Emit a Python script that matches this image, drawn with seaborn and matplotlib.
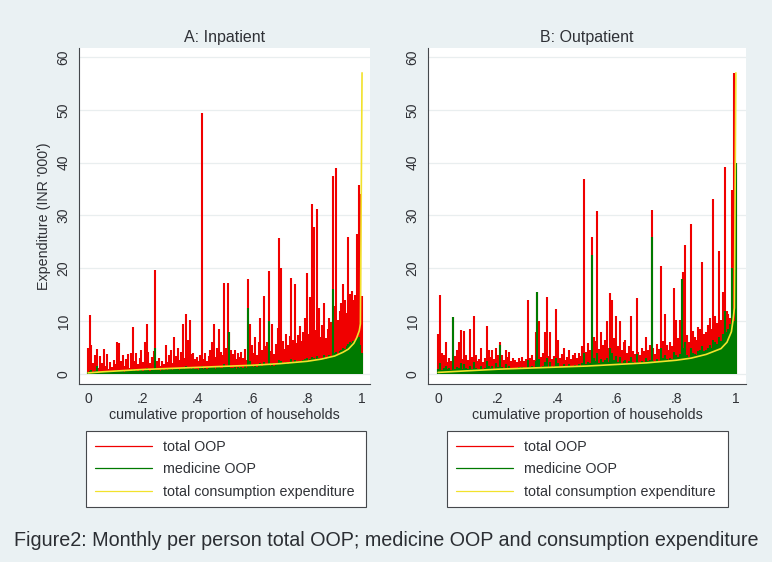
import numpy as np
import matplotlib
matplotlib.use("Agg")
import matplotlib.pyplot as plt
from matplotlib.lines import Line2D
import seaborn as sns

# ---- data (INR '000, households ordered by consumption expenditure) ----
inpatient_total = [
    5.0, 11.2, 5.5, 2.1, 3.5, 4.8, 1.2, 3.4, 2.0, 4.7, 1.5, 3.8, 1.0, 2.2, 1.4, 2.6, 1.8, 6.0, 5.8, 2.4,
    3.5, 1.6, 2.8, 3.8, 1.2, 4.0, 8.8, 2.5, 4.0, 1.8, 3.0, 4.5, 2.2, 6.0, 9.5, 4.2, 2.0, 3.2, 4.4, 19.7,
    2.5, 3.0, 1.6, 2.4, 1.8, 5.5, 2.2, 3.6, 4.5, 2.0, 7.0, 3.4, 5.0, 2.6, 4.2, 9.5, 3.0, 11.3, 6.5, 10.3,
    3.8, 4.0, 2.8, 3.2, 2.4, 3.6, 49.4, 2.8, 4.0, 2.5, 3.4, 4.6, 6.0, 9.4, 3.2, 5.0, 8.5, 4.2, 3.6, 17.2,
    5.0, 17.3, 8.0, 4.5, 3.8, 4.5, 2.8, 4.0, 3.2, 4.2, 3.0, 4.8, 2.6, 18.0, 9.5, 5.5, 4.0, 7.0, 3.6, 6.0,
    10.5, 4.6, 14.7, 5.2, 6.0, 19.4, 4.4, 9.5, 3.8, 5.6, 8.7, 25.8, 20.0, 6.2, 4.8, 7.5, 5.4, 7.2, 18.1, 6.4,
    17.1, 5.8, 7.4, 9.0, 6.2, 8.0, 10.5, 19.2, 7.6, 14.5, 32.2, 27.8, 8.4, 31.2, 12.5, 7.0, 9.2, 13.5, 6.8, 8.5,
    10.5, 9.8, 37.5, 12.8, 39.0, 10.2, 12.0, 13.5, 17.0, 14.0, 11.5, 25.9, 15.2, 15.7, 14.0, 15.0, 26.5, 35.7, 34.0, 14.8,
]
inpatient_medicine = [
    0.3, 0.5, 0.8, 0.4, 0.6, 1.5, 0.3, 0.4, 0.5, 0.6, 0.4, 0.5, 0.3, 0.5, 0.4, 0.6, 0.5, 0.8, 0.7, 0.5,
    0.6, 0.4, 0.7, 0.8, 0.5, 0.6, 0.9, 0.6, 0.7, 0.5, 0.8, 0.9, 0.6, 1.0, 1.2, 0.8, 0.6, 0.7, 0.9, 5.0,
    0.7, 0.8, 0.6, 0.9, 0.7, 1.0, 0.8, 0.9, 1.1, 0.7, 1.2, 0.9, 1.0, 0.8, 1.1, 1.4, 0.9, 1.6, 1.2, 1.3,
    1.0, 1.1, 0.9, 1.0, 0.8, 1.1, 1.5, 0.9, 1.2, 1.0, 1.1, 1.3, 1.4, 1.6, 1.0, 1.3, 1.5, 1.2, 1.1, 1.8,
    1.3, 1.6, 8.0, 1.2, 1.1, 1.4, 1.0, 1.3, 1.2, 1.4, 1.1, 1.5, 1.2, 12.5, 2.5, 1.6, 1.4, 1.8, 1.3, 1.7,
    2.0, 1.6, 2.2, 1.8, 1.7, 10.0, 1.6, 2.0, 1.5, 1.9, 2.1, 2.6, 2.4, 1.9, 1.8, 2.2, 1.9, 2.1, 2.8, 2.0,
    2.6, 2.2, 2.4, 2.5, 2.3, 2.6, 2.8, 3.0, 2.5, 2.9, 3.2, 3.0, 2.7, 3.4, 3.0, 2.8, 3.1, 3.5, 2.9, 3.2,
    3.6, 3.4, 16.0, 4.0, 4.2, 3.8, 4.4, 4.6, 5.0, 4.8, 5.2, 5.6, 6.0, 5.8, 6.2, 6.5, 6.8, 7.0, 5.5, 4.0,
]
inpatient_cons_share = [0, .05, .1, .2, .3, .4, .5, .6, .7, .8, .85, .9, .93, .95, .97, .98, .99, .994, 1.0]
inpatient_cons = [0.2, 0.4, 0.55, 0.85, 1.05, 1.25, 1.45, 1.65, 1.95, 2.4, 2.8, 3.4, 4.1, 4.7, 5.8, 6.8, 8.2, 9.5, 57.0]

outpatient_total = [
    7.5, 15.0, 4.0, 3.5, 6.0, 2.2, 3.0, 2.5, 10.7, 3.4, 4.5, 6.0, 8.3, 2.8, 8.2, 3.5, 2.6, 8.5, 3.2, 11.0,
    3.5, 2.4, 2.8, 5.0, 2.2, 3.0, 9.0, 4.5, 3.2, 4.5, 2.8, 5.0, 3.6, 6.0, 3.5, 2.6, 4.5, 3.2, 4.2, 2.4,
    3.0, 2.6, 2.2, 3.0, 2.5, 3.3, 2.4, 2.8, 14.0, 3.0, 3.5, 2.6, 8.0, 15.5, 10.0, 3.2, 4.0, 8.0, 14.5, 3.4,
    8.0, 2.8, 3.4, 12.3, 6.5, 3.0, 3.8, 5.0, 2.6, 3.2, 4.5, 2.8, 3.6, 4.0, 3.0, 4.0, 3.4, 5.2, 36.9, 4.2,
    5.8, 4.6, 26.0, 7.0, 6.2, 30.8, 4.8, 8.0, 5.4, 6.5, 10.0, 5.0, 15.3, 14.0, 6.8, 11.0, 5.2, 10.0, 4.6, 6.0,
    6.5, 4.0, 5.2, 11.0, 4.4, 3.8, 14.3, 4.2, 3.6, 5.0, 4.4, 7.0, 4.6, 5.4, 31.0, 5.0, 3.8, 5.6, 4.8, 20.5,
    6.2, 11.3, 5.4, 4.6, 6.0, 5.2, 16.3, 10.3, 6.8, 10.3, 18.0, 19.3, 24.5, 7.4, 6.0, 28.3, 8.2, 7.0, 6.4, 8.8,
    8.5, 21.2, 7.6, 8.0, 9.2, 10.5, 8.6, 33.2, 11.0, 9.6, 23.2, 10.2, 15.5, 39.2, 12.0, 11.4, 10.5, 34.8, 57.0, 40.0,
]
outpatient_medicine = [
    1.0, 2.0, 0.8, 1.2, 1.5, 0.9, 1.2, 0.8, 10.7, 1.0, 1.4, 1.2, 2.0, 0.9, 1.8, 1.1, 0.9, 1.6, 1.0, 2.2,
    1.2, 0.9, 1.0, 1.6, 0.9, 1.1, 2.4, 1.5, 1.2, 1.6, 1.0, 2.0, 1.3, 5.5, 1.4, 1.0, 1.8, 1.2, 1.6, 1.0,
    1.2, 1.1, 1.0, 1.3, 1.1, 1.4, 1.0, 1.2, 2.6, 1.3, 1.5, 1.1, 2.4, 15.5, 2.8, 1.4, 1.6, 2.2, 3.0, 1.4,
    2.2, 1.3, 1.5, 3.0, 2.0, 1.4, 1.6, 1.8, 1.3, 1.5, 1.8, 1.4, 1.6, 1.7, 1.5, 1.8, 1.6, 2.0, 4.0, 1.8,
    2.2, 2.0, 22.5, 3.0, 2.4, 4.0, 2.0, 2.8, 2.2, 2.6, 3.0, 2.2, 5.0, 4.0, 2.6, 3.4, 2.2, 3.2, 2.1, 2.5,
    2.6, 2.0, 2.4, 3.2, 2.2, 2.0, 3.8, 2.2, 2.0, 2.4, 2.3, 3.0, 2.4, 2.6, 26.0, 2.5, 2.2, 2.8, 2.5, 5.0,
    3.0, 3.6, 2.8, 2.6, 3.0, 2.8, 4.2, 3.6, 3.2, 3.8, 18.0, 5.0, 6.0, 3.6, 3.2, 5.0, 4.0, 3.8, 3.6, 4.4,
    4.6, 5.2, 4.4, 4.6, 5.0, 5.4, 5.0, 6.5, 6.0, 5.6, 7.0, 6.2, 7.5, 12.0, 8.0, 8.5, 9.5, 20.0, 10.0, 40.0,
]
outpatient_cons_share = [0, .1, .2, .3, .4, .5, .6, .7, .8, .85, .9, .95, .97, .985, .99, .995, 1.0]
outpatient_cons = [0.3, 0.6, 0.9, 1.1, 1.3, 1.5, 1.8, 2.1, 2.6, 3.0, 3.7, 4.8, 6.0, 8.0, 10.0, 12.5, 57.0]

tick_vals = [0, .2, .4, .6, .8, 1]
tick_labels = ["0", ".2", ".4", ".6", ".8", "1"]
legend_labels = ["total OOP", "medicine OOP", "total consumption expenditure"]

BG = "#EAF1F3"
RED = "#F00000"
GREEN = "#007A00"
YELLOW = "#F2E22C"
INK = "#2F3136"

sns.set_style("white")
plt.rcParams["font.family"] = ["Liberation Sans", "DejaVu Sans"]

fig = plt.figure(figsize=(7.72, 5.62), dpi=100, facecolor=BG)
ax_a = fig.add_axes([79 / 772, 1 - 384 / 562, 291 / 772, 336 / 562])
ax_b = fig.add_axes([428 / 772, 1 - 384 / 562, 318 / 772, 336 / 562])


def draw_panel(ax, total, medicine, cons_share, cons, title, xlim, legend_box):
    share = np.linspace(0, 1, len(total))
    ax.vlines(share, 0, total, color=RED, lw=1.5, capstyle="butt")
    ax.vlines(share, 0, medicine, color=GREEN, lw=1.5, capstyle="butt")
    sns.lineplot(x=cons_share, y=cons, ax=ax, color=YELLOW, lw=1.2)

    ax.set_facecolor("white")
    ax.set_xlim(*xlim)
    ax.set_ylim(-1.9, 61.7)
    ax.set_yticks(range(0, 61, 10))
    ax.set_xticks(tick_vals)
    ax.set_xticklabels(tick_labels)
    ax.yaxis.grid(True, color="#E9EEEF", lw=0.9)
    ax.set_axisbelow(True)
    for side in ["top", "right"]:
        ax.spines[side].set_visible(False)
    for side in ["left", "bottom"]:
        ax.spines[side].set_color("#45484C")
        ax.spines[side].set_linewidth(0.8)
    ax.tick_params(axis="both", direction="out", length=4, width=0.8, color="#45484C",
                   labelsize=10, labelcolor=INK, pad=2)
    plt.setp(ax.get_yticklabels(), rotation=90, va="center")
    ax.set_title(title, fontsize=11.5, color=INK, pad=4)
    ax.set_xlabel("cumulative proportion of households", fontsize=10.3, color=INK, labelpad=1)

    handles = [Line2D([], [], color=c, lw=0.9) for c in [RED, GREEN, YELLOW]]
    leg = ax.legend(handles, legend_labels, loc="upper left", bbox_to_anchor=legend_box,
                    bbox_transform=fig.transFigure, mode="expand", fontsize=10.3,
                    frameon=True, fancybox=False, framealpha=1, edgecolor="#45484C",
                    borderaxespad=0, borderpad=0.6, labelspacing=0.6,
                    handlelength=4.0, handletextpad=0.8)
    leg.get_frame().set_linewidth(0.8)
    for t in leg.get_texts():
        t.set_color(INK)


draw_panel(ax_a, inpatient_total, inpatient_medicine, inpatient_cons_share, inpatient_cons,
           "A: Inpatient", (-0.033, 1.029), (86 / 772, 1 - 431 / 562 - 0.1, 280 / 772, 0.1))
draw_panel(ax_b, outpatient_total, outpatient_medicine, outpatient_cons_share, outpatient_cons,
           "B: Outpatient", (-0.034, 1.034), (447 / 772, 1 - 431 / 562 - 0.1, 281 / 772, 0.1))

ax_a.set_ylabel("Expenditure (INR '000')", fontsize=10.3, color=INK, labelpad=4)
ax_b.set_ylabel("")

fig.text(0.5, 1 - 540 / 562, "Figure2: Monthly per person total OOP; medicine OOP and consumption expenditure",
         ha="center", va="center", fontsize=14.2, color="#2B2E33")

fig.savefig("out.png", dpi=100, facecolor=BG)
